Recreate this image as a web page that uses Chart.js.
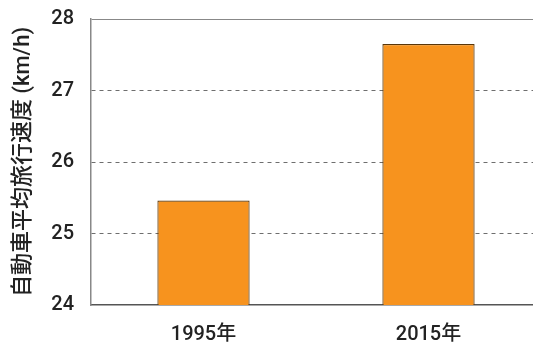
<!DOCTYPE html>
<html>
<head>
<meta charset="utf-8">
<script src="https://cdn.jsdelivr.net/npm/chart.js@4"></script>
<style>
  html, body { margin: 0; padding: 0; background: #fff; overflow: hidden; }
  #wrap { position: relative; width: 541px; height: 346px; }
</style>
</head>
<body>
<div id="wrap"><canvas id="speedChart"></canvas></div>
<script>
// data
const years = ['1995年', '2015年'];
const speeds = [25.46, 27.65];
const yTicks = [24, 25, 26, 27, 28];
const yTitle = '自動車平均旅行速度 (km/h)';

const fontFamily = 'Roboto, "Noto Sans CJK JP", sans-serif';

const ctx = document.getElementById('speedChart');
new Chart(ctx, {
    type: 'bar',
    data: {
        labels: years,
        datasets: [{
            data: speeds,
            backgroundColor: '#F7931E',
            borderColor: '#5a3608',
            borderWidth: 1.2,
            borderSkipped: false,
            categoryPercentage: 1,
            barPercentage: 0.41
        }]
    },
    options: {
        responsive: true,
        maintainAspectRatio: false,
        animation: false,
        layout: { padding: { top: 19, left: 0, right: 0, bottom: 0 } },
        plugins: {
            legend: { display: false },
            tooltip: { enabled: false }
        },
        scales: {
            x: {
                grid: { display: false, drawTicks: false },
                border: { display: true, color: '#555', width: 1.5 },
                ticks: {
                    color: '#222',
                    padding: 18,
                    font: { family: fontFamily, size: 20, weight: 500 }
                },
                afterFit: function (scale) {
                    scale.height = 41;
                    scale.paddingTop = 0;
                    scale.paddingLeft = 0;
                    scale.paddingRight = 0;
                }
            },
            y: {
                min: yTicks[0],
                max: yTicks[yTicks.length - 1],
                afterBuildTicks: function (scale) {
                    scale.ticks = yTicks.map(v => ({ value: v }));
                },
                grid: {
                    drawTicks: false,
                    lineWidth: 1,
                    color: function (c) {
                        if (!c.tick) return '#888';
                        if (c.tick.value === yTicks[0]) return 'rgba(0,0,0,0)';
                        if (c.tick.value === yTicks[yTicks.length - 1]) return '#888';
                        return '#6e6e6e';
                    }
                },
                border: {
                    display: true,
                    color: '#888',
                    width: 1.5,
                    dash: function (c) {
                        if (c.tick && c.tick.value > yTicks[0] && c.tick.value < yTicks[yTicks.length - 1]) return [4, 4];
                        return [];
                    }
                },
                ticks: {
                    color: '#222',
                    padding: 17,
                    font: { family: fontFamily, size: 20, weight: 500 }
                },
                title: {
                    display: true,
                    text: yTitle,
                    color: '#222',
                    padding: { top: 10, bottom: 0 },
                    font: { family: fontFamily, size: 22, weight: 500 }
                },
                afterFit: function (scale) {
                    scale.width = 91;
                    scale.paddingTop = 0;
                    scale.paddingBottom = 0;
                }
            }
        }
    }
});
</script>
</body>
</html>
